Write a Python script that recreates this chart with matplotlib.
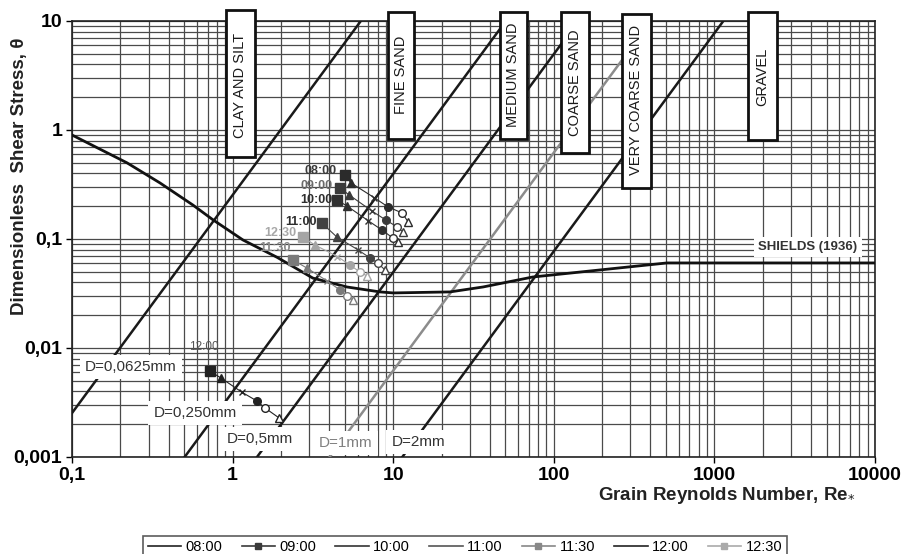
import matplotlib.pyplot as plt
from matplotlib.patches import Rectangle
from matplotlib.lines import Line2D
from matplotlib.ticker import NullFormatter

plt.rcParams['font.family'] = ['Liberation Sans', 'DejaVu Sans']

# Shields (1936) threshold curve
shields_re = [0.1, 0.22, 0.353, 0.566, 0.755, 1.16, 1.89, 3.16, 5.15, 8.28, 10,
              22.6, 36.3, 74, 194, 507, 10000]
shields_theta = [0.90, 0.50, 0.327, 0.205, 0.150, 0.098, 0.068, 0.0438, 0.0363, 0.0327,
                 0.0320, 0.0327, 0.0363, 0.0448, 0.052, 0.0603, 0.0603]

# constant grain-size lines, given by their Re* at theta = 0.001 and theta = 10
grain_labels = ['D=0,0625mm', 'D=0,250mm', 'D=0,5mm', 'D=1mm', 'D=2mm']
grain_re_low = [0.0629, 0.503, 1.42, 4.02, 11.4]
grain_re_high = [6.29, 50.3, 142, 402, 1138]
grain_label_re = [0.233, 0.583, 1.48, 5.08, 14.3]
grain_label_theta = [0.0067, 0.00254, 0.00146, 0.00134, 0.00137]

# sediment classes
zone_names = ['CLAY AND SILT', 'FINE SAND', 'MEDIUM SAND', 'COARSE SAND',
              'VERY COARSE SAND', 'GRAVEL']

# measured points per hour: square, triangle, cross, circle, open circle, open triangle
times = ['08:00', '09:00', '10:00', '11:00', '11:30', '12:00', '12:30']
series_re = [
    [5.01, 5.46, 7.6, 9.29, 11.4, 12.4],
    [4.67, 5.31, 7.4, 9.02, 10.6, 11.5],
    [4.47, 5.15, 7.0, 8.51, 9.97, 10.7],
    [3.6, 4.47, 6.0, 7.18, 8.04, 8.89],
    [2.38, 2.9, 3.9, 4.67, 5.15, 5.62],
    [0.72, 0.848, 1.14, 1.42, 1.59, 1.95],
    [2.74, 3.26, 4.5, 5.38, 6.21, 6.87],
]
series_theta = [
    [0.386, 0.327, 0.24, 0.197, 0.173, 0.143],
    [0.294, 0.254, 0.18, 0.149, 0.129, 0.116],
    [0.228, 0.201, 0.147, 0.121, 0.102, 0.0938],
    [0.140, 0.104, 0.080, 0.067, 0.060, 0.052],
    [0.0641, 0.0542, 0.041, 0.034, 0.030, 0.0275],
    [0.00615, 0.0053, 0.00394, 0.00326, 0.00282, 0.00228],
    [0.104, 0.088, 0.069, 0.0577, 0.0498, 0.0458],
]

series_colors = ['#2b2b2b', '#3a3a3a', '#303030', '#424242', '#7a7a7a', '#222222', '#a5a5a5']
label_colors = ['#3a3a3a', '#6a6a6a', '#2e2e2e', '#2e2e2e', '#8a8a8a', '#555555', '#a8a8a8']
label_offsets = [(-6, 3), (-5, 1.5), (-3, 0), (-4, 1), (-2, 9), (-4, 17), (-5, 3)]
point_markers = ['s', '^', 'x', 'o', 'o', '^']
point_sizes = [6.5, 6, 5, 5.5, 5.5, 5.5]
point_filled = [True, True, True, True, False, False]

fig = plt.figure(figsize=(9.02, 5.54), dpi=100)
ax = fig.add_axes([0.0798, 0.1751, 0.8902, 0.787])
ax.set_xscale('log')
ax.set_yscale('log')
ax.set_xlim(0.1, 10000)
ax.set_ylim(0.001, 10)
ax.grid(True, which='both', color='#4a4a4a', lw=0.9)
ax.set_axisbelow(True)

ax.set_xticks([0.1, 1, 10, 100, 1000, 10000], ['0,1', '1', '10', '100', '1000', '10000'])
ax.set_yticks([0.001, 0.01, 0.1, 1, 10], ['0,001', '0,01', '0,1', '1', '10'])
ax.xaxis.set_minor_formatter(NullFormatter())
ax.yaxis.set_minor_formatter(NullFormatter())
ax.tick_params(which='minor', length=0)
ax.tick_params(which='major', length=4, width=1, labelsize=14, pad=3)
for lab in ax.get_xticklabels() + ax.get_yticklabels():
    lab.set_fontweight('bold')
for sp in ax.spines.values():
    sp.set_color('#222222')
    sp.set_linewidth(1.2)

# grain-size lines
for i in range(len(grain_labels)):
    col = '#8c8c8c' if grain_labels[i] == 'D=1mm' else '#1a1a1a'
    ax.plot([grain_re_low[i], grain_re_high[i]], [0.001, 10], color=col, lw=1.8, zorder=3)
    tcol = '#808080' if grain_labels[i] == 'D=1mm' else '#333333'
    ax.text(grain_label_re[i], grain_label_theta[i], grain_labels[i], fontsize=11,
            color=tcol, ha='center', va='center', zorder=5,
            bbox=dict(boxstyle='square,pad=0.35', fc='white', ec='none'))

# Shields curve
ax.plot(shields_re, shields_theta, color='#111111', lw=2, zorder=4)
ax.text(3830, 0.0845, 'SHIELDS (1936)', fontsize=9.5, fontweight='bold', color='#333333',
        ha='center', va='center', zorder=5,
        bbox=dict(boxstyle='square,pad=0.3', fc='white', ec='none'))

# measured series
for i, t in enumerate(times):
    c = series_colors[i]
    ax.plot(series_re[i], series_theta[i], color=c, lw=0.8, zorder=6)
    for j in range(len(point_markers)):
        face = c if point_filled[j] else 'white'
        ax.plot(series_re[i][j], series_theta[i][j], marker=point_markers[j],
                ms=point_sizes[j], mfc=face, mec=c, mew=1, ls='none', zorder=7)
    ax.annotate(t, (series_re[i][0], series_theta[i][0]), xytext=label_offsets[i],
                textcoords='offset points', ha='right' if t != '12:00' else 'center',
                va='center', fontsize=9 if t != '12:00' else 8.5,
                fontweight='bold' if t != '12:00' else 'normal',
                color=label_colors[i], zorder=8)

# sediment class boxes (axes fraction)
zone_x0 = [0.1918, 0.3935, 0.5330, 0.6090, 0.6850, 0.8418]
zone_x1 = [0.2279, 0.4259, 0.5666, 0.6438, 0.7210, 0.8780]
zone_y0 = [0.688, 0.7294, 0.7294, 0.6972, 0.617, 0.727]
zone_y1 = [1.0252, 1.0206, 1.0206, 1.0206, 1.016, 1.0206]
zone_ty = [0.853, 0.876, 0.876, 0.858, 0.819, 0.872]
for i, name in enumerate(zone_names):
    ax.add_patch(Rectangle((zone_x0[i], zone_y0[i]), zone_x1[i] - zone_x0[i],
                           zone_y1[i] - zone_y0[i], transform=ax.transAxes,
                           fc='white', ec='#111111', lw=2, clip_on=False, zorder=9))
    ax.text((zone_x0[i] + zone_x1[i]) / 2, zone_ty[i], name, transform=ax.transAxes,
            rotation=90, ha='center', va='center', fontsize=10.5, color='#1a1a1a',
            zorder=10, clip_on=False)

fig.text(20 / 902, 1 - 176 / 554, 'Dimensionless  Shear Stress, θ', rotation=90,
         ha='center', va='center', fontsize=13.5, fontweight='bold', color='#222222')
fig.text(855 / 902, 1 - 495 / 554, 'Grain Reynolds Number, Re$_{*}$', ha='right',
         va='center', fontsize=13.5, fontweight='bold', color='#222222')

legend_markers = ['', 's', '', '', 's', '', 's']
legend_colors = ['#222222', '#3a3a3a', '#333333', '#555555', '#888888', '#222222', '#aaaaaa']
handles = [Line2D([], [], color=legend_colors[i], marker=legend_markers[i] or None,
                  ms=5, lw=1.2, label=times[i]) for i in range(len(times))]
leg = fig.legend(handles=handles, loc='upper center', bbox_to_anchor=(465 / 902, 18 / 554),
                 ncol=7, fontsize=10.5, frameon=True, fancybox=False, edgecolor='#333333',
                 handlelength=2.3, columnspacing=1.3, borderpad=0.3, handletextpad=0.3,
                 borderaxespad=0)
leg.get_frame().set_linewidth(1.2)

fig.savefig('out.png', dpi=100)
